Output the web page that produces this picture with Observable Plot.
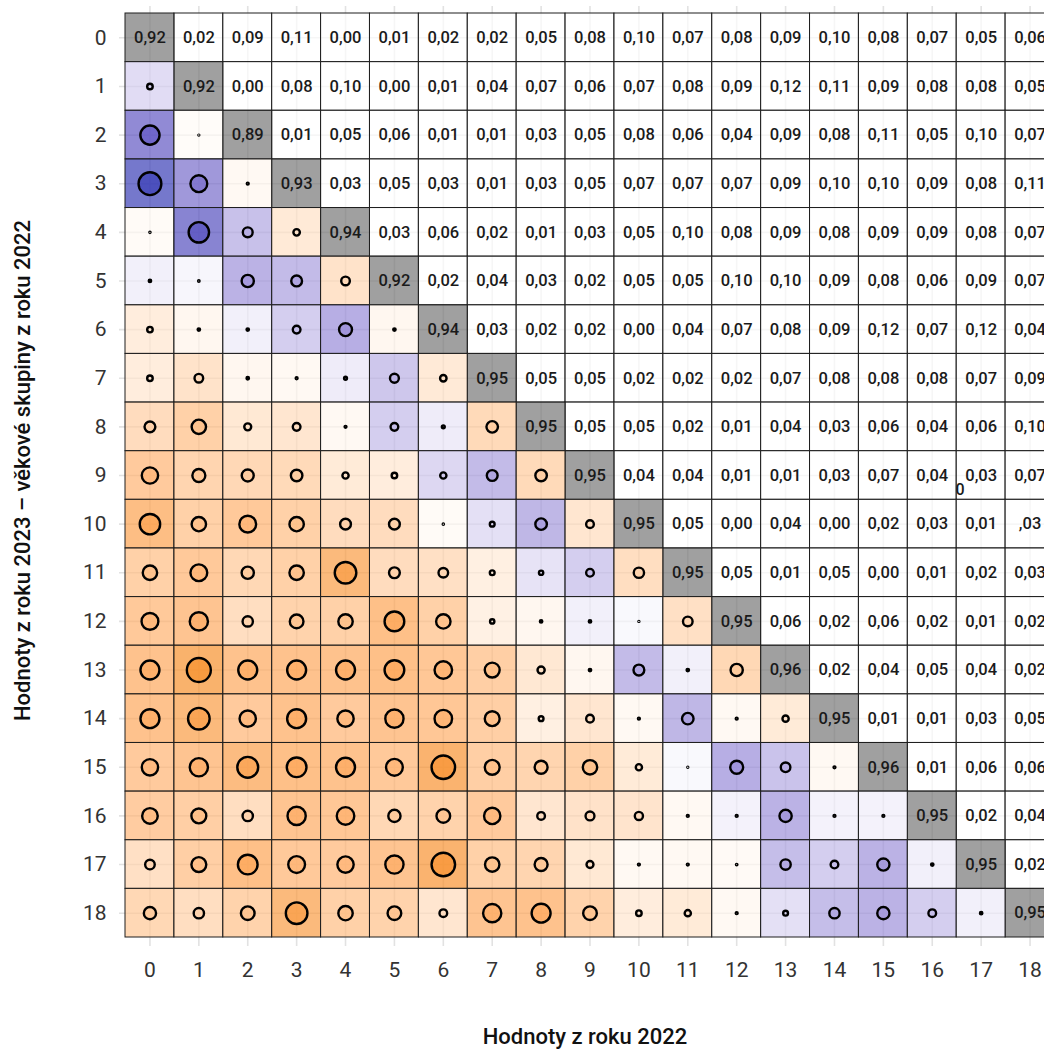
<!DOCTYPE html>
<html>
<head>
<meta charset="utf-8">
<script src="https://cdn.jsdelivr.net/npm/d3@7"></script>
<script src="https://cdn.jsdelivr.net/npm/@observablehq/plot@0.6"></script>
<style>
  html, body { margin: 0; padding: 0; background: #fff; overflow: hidden; }
  #chart svg { max-width: none !important; display: block; }
</style>
</head>
<body>
<div id="chart"></div>
<script>
// Age groups on both axes
const groups = [0, 1, 2, 3, 4, 5, 6, 7, 8, 9, 10, 11, 12, 13, 14, 15, 16, 17, 18];

// Diagonal values (same group in both years)
const diagonal = [0.92, 0.92, 0.89, 0.93, 0.94, 0.92, 0.94, 0.95, 0.95, 0.95,
                  0.95, 0.95, 0.95, 0.96, 0.95, 0.96, 0.95, 0.95, 0.95];

// Upper triangle: row r holds the values for columns r+1 … 18
const upper = [
  [0.02, 0.09, 0.11, 0.00, 0.01, 0.02, 0.02, 0.05, 0.08, 0.10, 0.07, 0.08, 0.09, 0.10, 0.08, 0.07, 0.05, 0.06],
  [0.00, 0.08, 0.10, 0.00, 0.01, 0.04, 0.07, 0.06, 0.07, 0.08, 0.09, 0.12, 0.11, 0.09, 0.08, 0.08, 0.05],
  [0.01, 0.05, 0.06, 0.01, 0.01, 0.03, 0.05, 0.08, 0.06, 0.04, 0.09, 0.08, 0.11, 0.05, 0.10, 0.07],
  [0.03, 0.05, 0.03, 0.01, 0.03, 0.05, 0.07, 0.07, 0.07, 0.09, 0.10, 0.10, 0.09, 0.08, 0.11],
  [0.03, 0.06, 0.02, 0.01, 0.03, 0.05, 0.10, 0.08, 0.09, 0.08, 0.09, 0.09, 0.08, 0.07],
  [0.02, 0.04, 0.03, 0.02, 0.05, 0.05, 0.10, 0.10, 0.09, 0.08, 0.06, 0.09, 0.07],
  [0.03, 0.02, 0.02, 0.00, 0.04, 0.07, 0.08, 0.09, 0.12, 0.07, 0.12, 0.04],
  [0.05, 0.05, 0.02, 0.02, 0.02, 0.07, 0.08, 0.08, 0.08, 0.07, 0.09],
  [0.05, 0.05, 0.02, 0.01, 0.04, 0.03, 0.06, 0.04, 0.06, 0.10],
  [0.04, 0.04, 0.01, 0.01, 0.03, 0.07, 0.04, 0.03, 0.07],
  [0.05, 0.00, 0.04, 0.00, 0.02, 0.03, 0.01, 0.03],
  [0.05, 0.01, 0.05, 0.00, 0.01, 0.02, 0.03],
  [0.06, 0.02, 0.06, 0.02, 0.01, 0.02],
  [0.02, 0.04, 0.05, 0.04, 0.02],
  [0.01, 0.01, 0.03, 0.05],
  [0.01, 0.06, 0.06],
  [0.02, 0.04],
  [0.02]
];

// Lower triangle: signed change, row r (from 1) holds columns 0 … r-1
const lower = [
  [-0.23],
  [-0.80, 0.04],
  [-0.95, -0.70, 0.08],
  [0.05, -0.85, -0.41, 0.27],
  [-0.10, -0.06, -0.51, -0.45, 0.36],
  [0.23, 0.10, -0.10, -0.32, -0.54, 0.10],
  [0.23, 0.36, 0.10, 0.08, -0.12, -0.37, 0.27],
  [0.45, 0.60, 0.29, 0.32, 0.08, -0.32, -0.12, 0.48],
  [0.68, 0.54, 0.50, 0.48, 0.26, 0.23, -0.26, -0.45, 0.48],
  [0.85, 0.60, 0.70, 0.60, 0.45, 0.45, 0.05, -0.20, -0.48, 0.32],
  [0.60, 0.70, 0.51, 0.60, 0.90, 0.45, 0.40, 0.20, -0.18, -0.32, 0.43],
  [0.70, 0.76, 0.43, 0.57, 0.60, 0.82, 0.60, 0.18, 0.10, -0.10, -0.04, 0.40],
  [0.79, 1.00, 0.79, 0.79, 0.79, 0.82, 0.73, 0.62, 0.30, 0.10, -0.45, -0.10, 0.51],
  [0.79, 0.90, 0.68, 0.79, 0.68, 0.76, 0.73, 0.62, 0.20, 0.32, 0.08, -0.48, 0.08, 0.26],
  [0.68, 0.76, 0.87, 0.82, 0.79, 0.70, 0.98, 0.62, 0.54, 0.60, 0.26, -0.04, -0.54, -0.40, 0.08],
  [0.65, 0.62, 0.43, 0.76, 0.73, 0.51, 0.57, 0.68, 0.32, 0.37, 0.34, 0.08, -0.08, -0.51, -0.08, -0.08],
  [0.40, 0.62, 0.82, 0.70, 0.68, 0.76, 0.98, 0.60, 0.54, 0.29, 0.08, 0.08, 0.06, -0.43, -0.32, -0.51, -0.10],
  [0.51, 0.43, 0.57, 0.90, 0.60, 0.57, 0.32, 0.76, 0.79, 0.57, 0.23, 0.26, 0.08, -0.20, -0.43, -0.51, -0.32, -0.10]
];

// Labels printed differently from the plain formatted value
const labelOverrides = [{row: 10, col: 18, text: ",03"}];
// Loose glyph sitting in the corner of a cell
const strayLabels = [{row: 9, col: 17, text: "0"}];

const xTitle = "Hodnoty z roku 2022";
const yTitle = "Hodnoty z roku 2023 – věkové skupiny z roku 2022";

const fmt = v => d3.format(".2f")(v).replace(".", ",");
const overrideText = (row, col) => {
  const o = labelOverrides.find(d => d.row === row && d.col === col);
  return o ? o.text : null;
};

const upperCells = upper.flatMap((vals, row) => vals.map((v, k) => ({row, col: row + 1 + k, v})));
const diagCells = diagonal.map((v, i) => ({row: i, col: i, v}));
const lowerCells = lower.flatMap((vals, k) => vals.map((v, col) => ({row: k + 1, col, v})));
const textCells = [...diagCells, ...upperCells].map(d => ({...d, label: overrideText(d.row, d.col) ?? fmt(d.v)}));

const font = "Roboto, 'Noto Sans', sans-serif";

const chart = Plot.plot({
  width: 1056,
  height: 1051,
  marginLeft: 125,
  marginRight: 2,
  marginTop: 13,
  marginBottom: 114,
  style: {fontFamily: font, background: "white"},
  x: {type: "band", domain: groups, padding: 0, round: false},
  y: {type: "band", domain: groups, padding: 0, round: false},
  color: {type: "linear", domain: [-1, 0, 1], range: ["#2a35b3", "#ffffff", "#f7912d"], interpolate: "lab"},
  r: {type: "linear", domain: [0, 1], range: [0, 12]},
  marks: [
    Plot.gridX(groups, {stroke: "#e2e2e2", strokeOpacity: 1, strokeWidth: 1.6, insetTop: -7, insetBottom: -9}),
    Plot.gridY(groups, {stroke: "#e2e2e2", strokeOpacity: 1, strokeWidth: 1.6, insetLeft: -6, insetRight: -6}),
    Plot.cell(upperCells, {x: "col", y: "row", fill: "white", fillOpacity: 0.7, stroke: "#1e1e1e", strokeWidth: 1, inset: 0}),
    Plot.cell(diagCells, {x: "col", y: "row", fill: "#777777", fillOpacity: 0.7, stroke: "#1e1e1e", strokeWidth: 1, inset: 0}),
    Plot.cell(lowerCells, {x: "col", y: "row", fill: "v", fillOpacity: 0.7, stroke: "#1e1e1e", strokeWidth: 1, inset: 0}),
    Plot.dot(lowerCells, {x: "col", y: "row", r: d => Math.abs(d.v), fill: "v", fillOpacity: 0.7, stroke: "black", strokeWidth: 2.4}),
    Plot.text(textCells, {x: "col", y: "row", text: "label", fontSize: 16.5, fontWeight: 500, fill: "#1a1a1a"}),
    Plot.text(strayLabels, {x: "col", y: "row", text: "text", dx: -21, dy: 14, fontSize: 16, fontWeight: 500, fill: "#1a1a1a"}),
    Plot.axisX({tickSize: 0, tickPadding: 25, fontSize: 21, color: "#333", label: null}),
    Plot.axisY({tickSize: 0, tickPadding: 19, fontSize: 21, color: "#333", label: null}),
    Plot.text([xTitle], {text: d => d, frameAnchor: "bottom", textAnchor: "middle", lineAnchor: "middle", dy: 99, dx: -5, fontSize: 22, fontWeight: 500, fill: "#111"}),
    Plot.text([yTitle], {text: d => d, frameAnchor: "left", textAnchor: "middle", lineAnchor: "middle", rotate: -90, dx: -103, dy: -5, fontSize: 22, fontWeight: 500, fill: "#111"})
  ]
});

document.getElementById("chart").appendChild(chart);
</script>
</body>
</html>
